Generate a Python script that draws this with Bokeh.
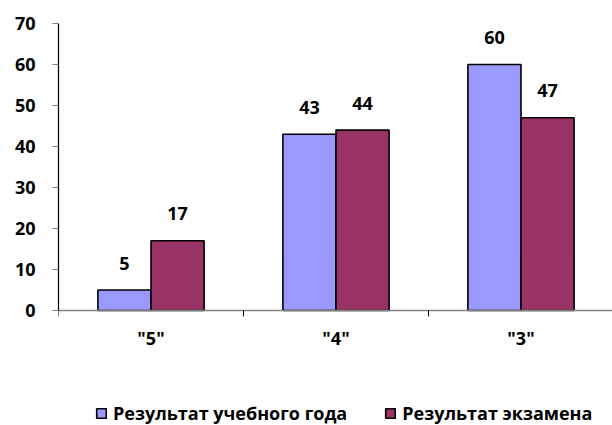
from bokeh.plotting import figure
from bokeh.models import Range1d, FixedTicker, ColumnDataSource
from bokeh.transform import dodge
from bokeh.core.properties import value
from bokeh.embed import file_html
from bokeh.resources import INLINE

categories = ['"5"', '"4"', '"3"']
year_result = [5, 43, 60]
exam_result = [17, 44, 47]
series_names = ["Результат учебного года", "Результат экзамена"]
y_ticks = [0, 10, 20, 30, 40, 50, 60, 70]

FONT = "Open Sans"
BLUE = "#9999FF"
RED = "#993366"

x = [i + 0.5 for i in range(len(categories))]
src = ColumnDataSource(dict(
    x=x, year=year_result, exam=exam_result,
    year_txt=[str(v) for v in year_result],
    exam_txt=[str(v) for v in exam_result],
))

# frame: left 58, top 23, bottom 425 (page bottom); 0 at y=310, 70 at y=23
px_per_unit = (310 - 23) / 70.0
y_start = 70 - (425 - 23) / px_per_unit
x_end = (612 - 58) / 185.0

p = figure(width=612, height=425, output_backend="svg", toolbar_location=None,
           x_range=Range1d(0, x_end), y_range=Range1d(y_start, 70),
           min_border_left=58, min_border_right=0, min_border_top=23,
           min_border_bottom=0)
p.outline_line_color = None
p.grid.visible = False
p.background_fill_color = "white"
p.border_fill_color = "white"

bw = 0.287
off = bw / 2
p.vbar(x=dodge('x', -off, range=p.x_range), top='year', bottom=0, width=bw,
       source=src, fill_color=BLUE, line_color="black", line_width=1.6,
       legend_label=series_names[0])
p.vbar(x=dodge('x', off, range=p.x_range), top='exam', bottom=0, width=bw,
       source=src, fill_color=RED, line_color="black", line_width=1.6,
       legend_label=series_names[1])

for col, txt, d in (("year", "year_txt", -off), ("exam", "exam_txt", off)):
    p.text(x=dodge('x', d, range=p.x_range), y=col, text=txt, source=src,
           text_align="center", text_baseline="alphabetic", y_offset=-27,
           text_font=value(FONT), text_font_style="bold",
           text_font_size="18px", text_color="black")

# x axis (drawn at y = 0)
xa = p.xaxis[0]
xa.fixed_location = 0
xa.ticker = FixedTicker(ticks=x, minor_ticks=[0, 1, 2, 3])
xa.major_label_overrides = {xv: c for xv, c in zip(x, categories)}
xa.major_tick_line_color = None
xa.major_tick_out = 0
xa.major_tick_in = 0
xa.minor_tick_out = 6
xa.minor_tick_in = 0
xa.minor_tick_line_color = "black"
xa.axis_line_color = "#808080"
xa.axis_line_width = 1.5
xa.major_label_standoff = 9
xa.major_label_text_font = FONT
xa.major_label_text_font_style = "bold"
xa.major_label_text_font_size = "18px"
xa.major_label_text_color = "black"

# y axis
ya = p.yaxis[0]
ya.ticker = FixedTicker(ticks=y_ticks)
ya.bounds = (0, 70)
ya.axis_line_color = "black"
ya.axis_line_width = 1.2
ya.major_tick_line_color = "#808080"
ya.major_tick_out = 6
ya.major_tick_in = 0
ya.minor_tick_line_color = None
ya.major_label_standoff = 17
ya.major_label_text_font = FONT
ya.major_label_text_font_style = "bold"
ya.major_label_text_font_size = "18px"
ya.major_label_text_color = "black"

lg = p.legend[0]
lg.orientation = "horizontal"
lg.location = (37, 0)
lg.border_line_color = None
lg.background_fill_alpha = 0
lg.padding = 2
lg.margin = 0
lg.spacing = 37
lg.label_standoff = 6
lg.glyph_width = 12
lg.glyph_height = 12
lg.label_text_font = FONT
lg.label_text_font_style = "bold"
lg.label_text_font_size = "18px"
lg.label_text_color = "black"

open("out.html", "w").write(file_html(p, INLINE))
